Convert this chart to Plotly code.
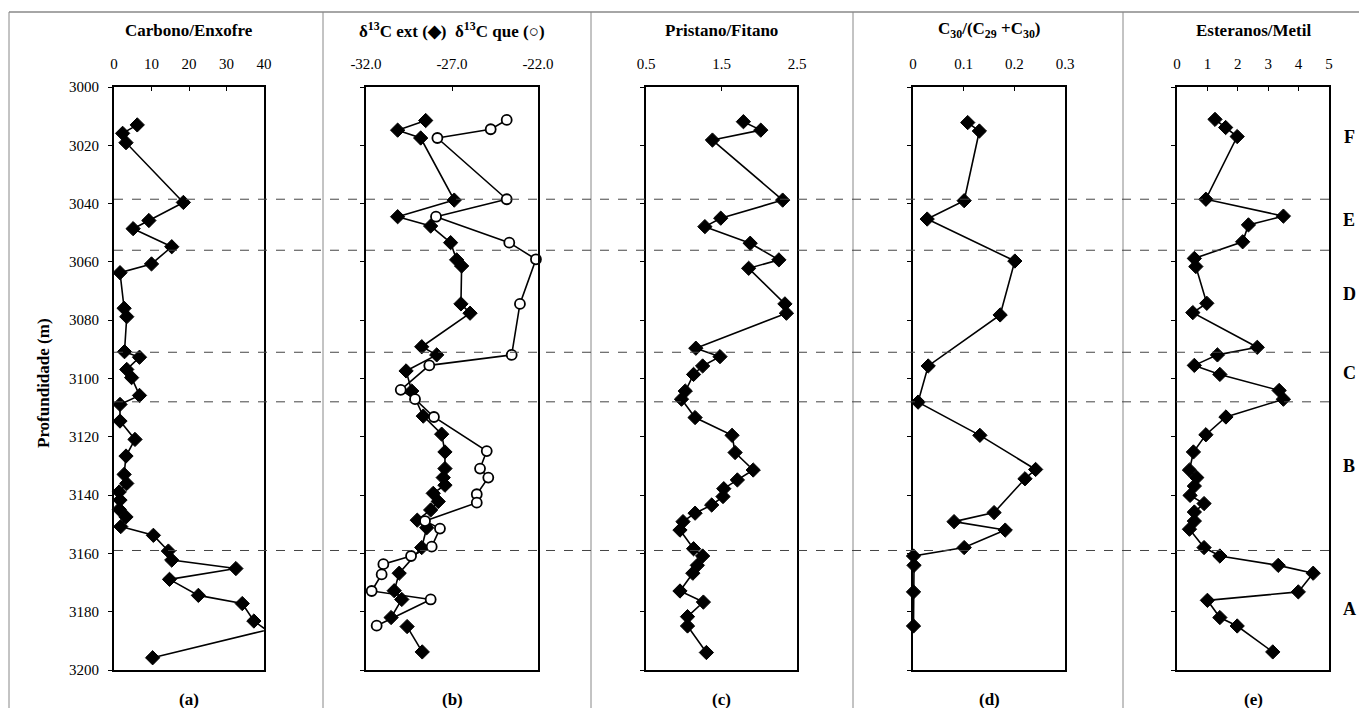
import plotly.graph_objects as go

# ---------------- data ----------------
# (a) Carbono/Enxofre
cs_depth = [3013.0, 3015.9, 3019.1, 3039.6, 3045.8, 3048.6, 3054.8, 3060.7, 3063.7, 3075.9,
            3078.8, 3090.8, 3092.7, 3096.9, 3099.7, 3105.8, 3108.9, 3114.6, 3120.9, 3126.6,
            3132.9, 3136.0, 3138.9, 3141.7, 3144.9, 3147.5, 3150.8, 3153.8, 3159.2, 3162.3,
            3165.2, 3168.9, 3174.4, 3177.2, 3183.2, 3186.3, 3195.8]
cs_val = [6.2, 2.3, 3.2, 18.5, 9.3, 5.1, 15.4, 10.0, 1.6, 2.7,
          3.4, 2.8, 6.8, 3.4, 4.7, 6.8, 1.6, 1.6, 5.6, 3.2,
          2.7, 3.4, 1.4, 1.6, 1.4, 3.2, 1.8, 10.5, 14.5, 15.4,
          32.5, 14.8, 22.5, 34.2, 37.3, 40.7, 10.3]

# (b) d13C extract (filled diamonds) - None marks a break in the line
ext_depth = [3011.5, 3014.8, 3017.5, 3038.8, 3044.5, 3047.7, 3053.4, 3059.3, 3061.4, 3074.4,
             3077.6, 3089.1, 3091.9, 3097.4, 3104.3, 3112.9, 3119.1, 3125.2, 3130.9, 3134.0,
             3136.6, 3139.4, 3142.2, 3145.1, 3148.6, 3151.2, 3158.0, 3166.8, 3172.8, 3175.8,
             3182.0, None, 3185.1, 3193.8]
ext_val = [-28.53, -30.16, -28.82, -26.87, -30.16, -28.24, -27.08, -26.73, -26.44, -26.48,
           -25.95, -28.76, -27.89, -29.67, -29.34, -28.67, -27.60, -27.41, -27.41, -27.51,
           -27.41, -28.09, -27.80, -28.24, -29.02, -28.47, -28.76, -30.07, -30.36, -29.92,
           -30.54, None, -29.61, -28.73]

# (b) d13C kerogen (open circles)
que_depth = [3011.3, 3014.5, 3017.5, 3038.5, 3044.5, 3053.4, 3059.1, 3074.4, 3091.9, 3095.5,
             3103.9, 3107.1, 3113.2, 3124.9, 3130.9, 3134.0, 3139.7, 3142.6, 3148.9, 3151.5,
             3157.7, 3160.9, 3163.7, 3167.2, 3172.9, 3175.8, 3184.8]
que_val = [-23.82, -24.75, -27.85, -23.82, -27.93, -23.67, -22.12, -23.05, -23.53, -28.32,
           -29.98, -29.15, -28.05, -24.98, -25.37, -24.89, -25.56, -25.56, -28.57, -27.70,
           -28.18, -29.38, -30.99, -31.09, -31.67, -28.24, -31.38]

# (c) Pristano/Fitano
pf_depth = [3011.9, 3014.8, 3018.2, 3038.8, 3045.0, 3047.9, 3053.6, 3059.3, 3062.2, 3074.4,
            3077.6, 3089.6, 3092.5, 3095.7, 3098.6, 3104.3, 3107.1, 3113.4, 3119.5, 3125.4,
            3131.4, 3134.8, 3137.8, 3140.5, 3143.4, 3146.2, 3149.1, 3152.0, 3158.4, 3160.9,
            3164.1, 3166.8, 3172.9, 3176.7, 3181.7, 3184.9, 3194.0]
pf_val = [1.79, 2.02, 1.38, 2.31, 1.49, 1.28, 1.88, 2.26, 1.86, 2.34,
          2.36, 1.16, 1.48, 1.25, 1.13, 1.02, 0.97, 1.15, 1.64, 1.68,
          1.92, 1.71, 1.53, 1.52, 1.37, 1.15, 0.99, 0.95, 1.13, 1.25,
          1.18, 1.12, 0.95, 1.26, 1.05, 1.05, 1.30]

# (d) C30/(C29+C30)
c30_depth = [3012.2, 3015.1, 3039.0, 3045.3, 3059.7, 3078.2, 3095.7, 3108.1, 3119.5, 3131.2,
             3134.4, 3146.0, 3149.1, 3152.0, 3158.0, 3160.9, 3164.1, 3173.2, 3184.9]
c30_val = [0.108, 0.131, 0.101, 0.028, 0.201, 0.172, 0.030, 0.010, 0.132, 0.242,
           0.221, 0.160, 0.081, 0.182, 0.101, 0.001, 0.002, 0.001, 0.001]

# (e) Esteranos/Metil
em_depth = [3011.1, 3013.9, 3017.0, 3038.5, 3044.3, 3047.3, 3053.1, 3058.8, 3061.6, 3074.2,
            3077.4, 3089.3, 3091.9, 3095.5, 3098.6, 3104.1, 3107.1, 3113.2, 3119.3, 3125.2,
            3131.4, 3134.0, 3136.9, 3140.1, 3142.9, 3145.8, 3148.9, 3151.7, 3158.0, 3160.9,
            3164.1, 3166.8, 3173.2, 3176.1, 3182.0, 3184.9, 3193.8]
em_val = [1.25, 1.60, 1.98, 0.95, 3.50, 2.35, 2.16, 0.57, 0.62, 0.98,
          0.52, 2.64, 1.33, 0.57, 1.41, 3.36, 3.50, 1.61, 0.95, 0.54,
          0.41, 0.65, 0.57, 0.43, 0.89, 0.57, 0.57, 0.41, 0.89, 1.41,
          3.33, 4.48, 3.99, 1.00, 1.41, 1.98, 3.15]

boundary_depths = [3038.5, 3056.0, 3091.0, 3108.0, 3159.0]
unit_labels = ["F", "E", "D", "C", "B", "A"]
unit_depths = [3017, 3045.5, 3071, 3098, 3130, 3179]

panel_titles = ["Carbono/Enxofre",
                "δ<sup>13</sup>C ext (◆)  δ<sup>13</sup>C que (○)",
                "Pristano/Fitano",
                "C<sub>30</sub>/(C<sub>29</sub> +C<sub>30</sub>)",
                "Esteranos/Metil"]
panel_letters = ["(a)", "(b)", "(c)", "(d)", "(e)"]
x_ranges = [[0, 40], [-32, -22], [0.5, 2.5], [0, 0.3], [0, 5]]
x_tickvals = [[0, 10, 20, 30, 40], [-32, -27, -22], [0.5, 1.5, 2.5], [0, 0.1, 0.2, 0.3], [0, 1, 2, 3, 4, 5]]
x_ticktext = [["0", "10", "20", "30", "40"], ["-32.0", "-27.0", "-22.0"], ["0.5", "1.5", "2.5"],
              ["0", "0.1", "0.2", "0.3"], ["0", "1", "2", "3", "4", "5"]]
depth_ticks = [3000, 3020, 3040, 3060, 3080, 3100, 3120, 3140, 3160, 3180, 3200]

# ---------------- layout geometry (reference pixels; page has an 8px body margin) ----------------
OFF = 8
W, H = 1367 - 2 * OFF, 716 - 2 * OFF
px_dom = [(114, 264), (366, 538), (646, 797), (913, 1065), (1177, 1329)]
y_top, y_bot = 87, 670
FONT = "Liberation Serif"


def fx(px):
    return (px - OFF) / W


def fy(py):
    return 1 - (py - OFF) / H


fig = go.Figure()

line_style = dict(color="black", width=1.6)
dia = dict(symbol="diamond", size=11, color="black", line=dict(color="black", width=1))

series = [
    (1, cs_val, cs_depth, dia),
    (2, ext_val, ext_depth, dia),
    (2, que_val, que_depth, dict(symbol="circle", size=10, color="white", line=dict(color="black", width=1.8))),
    (3, pf_val, pf_depth, dia),
    (4, c30_val, c30_depth, dia),
    (5, em_val, em_depth, dia),
]
for k, xv, yv, mk in series:
    fig.add_trace(go.Scatter(x=xv, y=yv, mode="lines+markers", line=line_style, marker=mk,
                             connectgaps=False, showlegend=False,
                             xaxis="x" if k == 1 else f"x{k}", yaxis="y" if k == 1 else f"y{k}",
                             cliponaxis=False))

layout = dict(width=W, height=H, margin=dict(l=0, r=0, t=0, b=0, autoexpand=False),
              template="none",
              paper_bgcolor="white", plot_bgcolor="white",
              font=dict(family=FONT, color="black", size=15), showlegend=False)

ydom = [fy(y_bot), fy(y_top)]
for i in range(5):
    k = i + 1
    xs = "" if k == 1 else str(k)
    x0, x1 = px_dom[i]
    layout[f"xaxis{xs}"] = dict(domain=[fx(x0), fx(x1)], range=x_ranges[i], side="top",
                                anchor=f"y{xs}", tickvals=x_tickvals[i], ticktext=x_ticktext[i],
                                ticks="inside", ticklen=4, tickcolor="black", automargin=False,
                                showline=True, linecolor="black", linewidth=2, mirror=True,
                                showgrid=False, zeroline=False, ticklabelstandoff=10,
                                tickfont=dict(family=FONT, size=15))
    layout[f"yaxis{xs}"] = dict(domain=ydom, range=[3200, 3000], anchor=f"x{xs}",
                                tickvals=depth_ticks, showticklabels=(k == 1),
                                ticks="outside", ticklen=4, tickcolor="black", automargin=False,
                                showline=True, linecolor="black", linewidth=2, mirror=True,
                                showgrid=False, zeroline=False, ticklabelstandoff=6,
                                tickfont=dict(family=FONT, size=15))
    if k > 1:
        layout[f"yaxis{xs}"]["matches"] = "y"
fig.update_layout(**layout)

# separators of the original table
shapes = []
for xp in [9, 323, 591, 853, 1123]:
    shapes.append(dict(type="line", xref="paper", yref="paper", x0=fx(xp), x1=fx(xp),
                       y0=0, y1=fy(12), line=dict(color="#888888", width=1)))
shapes.append(dict(type="line", xref="paper", yref="paper", x0=fx(9), x1=1, y0=fy(12),
                   y1=fy(12), line=dict(color="#888888", width=1.5)))
for d in boundary_depths:
    shapes.append(dict(type="line", xref="paper", yref="y", x0=fx(114), x1=fx(1332), y0=d, y1=d,
                       line=dict(color="#444444", width=1, dash="dash"), layer="above"))
fig.update_layout(shapes=shapes)

ann = []
for i in range(5):
    cx = fx((px_dom[i][0] + px_dom[i][1]) / 2)
    ann.append(dict(text=f"<b>{panel_titles[i]}</b>", x=cx, y=fy(30), xref="paper", yref="paper",
                    showarrow=False, font=dict(family=FONT, size=17), xanchor="center", yanchor="middle"))
    ann.append(dict(text=f"<b>{panel_letters[i]}</b>", x=cx, y=fy(699), xref="paper", yref="paper",
                    showarrow=False, font=dict(family=FONT, size=17), xanchor="center", yanchor="middle"))
ann.append(dict(text="<b>Profundidade (m)</b>", x=fx(43), y=fy(383), xref="paper", yref="paper",
                showarrow=False, textangle=-90, font=dict(family=FONT, size=17),
                xanchor="center", yanchor="middle"))
for lab, d in zip(unit_labels, unit_depths):
    ann.append(dict(text=f"<b>{lab}</b>", x=fx(1349), y=d, xref="paper", yref="y", showarrow=False,
                    font=dict(family=FONT, size=18), xanchor="center", yanchor="middle"))
fig.update_layout(annotations=ann)

fig.write_html("out.html")
